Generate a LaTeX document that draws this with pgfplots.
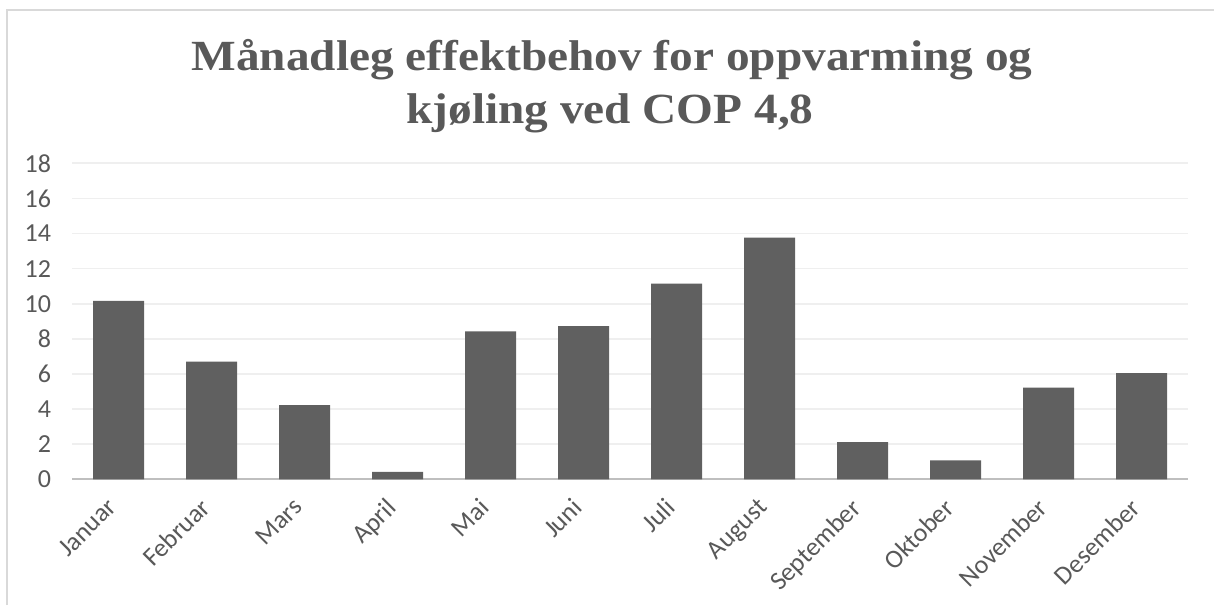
\documentclass[border=0pt]{standalone}
\usepackage{fontspec}
\setmainfont{Carlito}
\newfontfamily\titlefont[FakeStretch=1.1]{Liberation Serif}
\usepackage{pgfplots}
\pgfplotsset{compat=1.18}
\definecolor{barc}{HTML}{606060}
\definecolor{txt}{HTML}{595959}
\definecolor{gridc}{HTML}{EFEFEF}
\definecolor{axc}{HTML}{BFBFBF}
\definecolor{framec}{HTML}{D9D9D9}
\begin{document}
\begin{tikzpicture}
\useasboundingbox (0,0) rectangle (607pt,302.5pt);
\fill[white] (0,0) rectangle (607pt,302.5pt);
\draw[framec, line width=0.8pt] (3.5pt,0) -- (3.5pt,297.5pt) -- (607pt,297.5pt);

% title, two lines
\node[anchor=base, text=txt, font=\titlefont\bfseries\fontsize{21.5}{25}\selectfont] at (306pt,267.2pt) {Månadleg effektbehov for oppvarming og};
\node[anchor=base, text=txt, font=\titlefont\bfseries\fontsize{21.5}{25}\selectfont] at (305pt,240.5pt) {kjøling ved COP 4,8};

\begin{axis}[
    at={(36pt,62.85pt)}, anchor=south west,
    scale only axis,
    width=558pt, height=158pt,
    ymin=0, ymax=18,
    ytick={0,2,...,18},
    xmin=-0.5, xmax=11.5,
    xtick=data,
    xticklabels={Januar,Februar,Mars,April,Mai,Juni,Juli,August,September,Oktober,November,Desember},
    axis x line*=bottom,
    axis y line*=left,
    x axis line style={draw=axc, line width=1pt, -},
    y axis line style={draw=none},
    major tick length=0pt,
    ymajorgrids,
    grid style={draw=gridc, line width=0.8pt},
    tick label style={text=txt, font=\fontsize{13}{15}\selectfont},
    /pgf/number format/assume math mode=true,
    yticklabel style={anchor=east, xshift=-7pt},
    % shifts act in the rotated frame
    xticklabel style={rotate=45, anchor=north east, xshift=-7.2pt, yshift=1.8pt},
    ybar, bar width=25.5pt,
]
\addplot[fill=barc, draw=none] coordinates {
    (0,10.17) (1,6.70) (2,4.23) (3,0.43) (4,8.43) (5,8.73)
    (6,11.14) (7,13.76) (8,2.12) (9,1.08) (10,5.22) (11,6.05)
};
\end{axis}
\end{tikzpicture}
\end{document}
